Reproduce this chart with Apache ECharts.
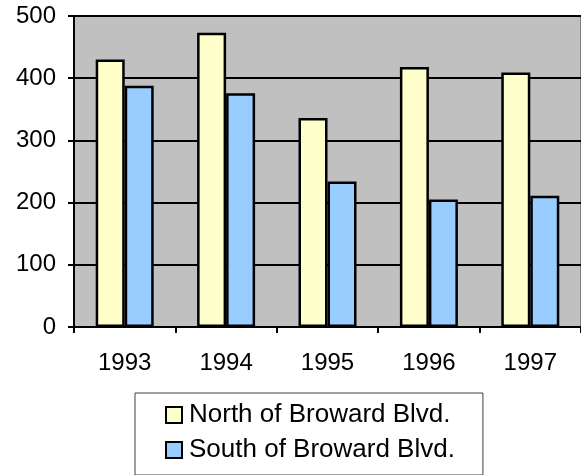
<!DOCTYPE html>
<html>
<head>
<meta charset="utf-8">
<script src="https://cdn.jsdelivr.net/npm/echarts@6/dist/echarts.min.js"></script>
<style>
  html, body { margin: 0; padding: 0; background: #ffffff; }
  #chart { width: 581px; height: 475px; }
</style>
</head>
<body>
<div id="chart"></div>
<script>
// Yearly counts, north vs. south of Broward Blvd.
var years = ['1993', '1994', '1995', '1996', '1997'];
var northValues = [430, 473, 336, 418, 409];
var southValues = [388, 376, 234, 205, 211];
var seriesNames = ['North of Broward Blvd.', 'South of Broward Blvd.'];
var yTicks = { min: 0, max: 500, step: 100 };

var FONT = '"Liberation Sans", Arial, sans-serif';

var chart = echarts.init(document.getElementById('chart'), null, { renderer: 'canvas' });

chart.setOption({
  animation: false,
  backgroundColor: '#ffffff',
  textStyle: { fontFamily: FONT },
  grid: {
    left: 74,
    top: 16,
    right: -3,
    bottom: 148,
    show: true,
    backgroundColor: '#c0c0c0',
    borderColor: '#808080',
    borderWidth: 2
  },
  legend: {
    orient: 'vertical',
    left: 135,
    top: 393,
    padding: [9, 28, 12, 30],
    itemGap: 9,
    itemWidth: 16,
    itemHeight: 16,
    icon: 'rect',
    borderColor: '#404040',
    borderWidth: 1,
    backgroundColor: '#ffffff',
    textStyle: { fontFamily: FONT, fontSize: 26, color: '#000000', padding: [0, 0, 0, 2] },
    data: seriesNames
  },
  xAxis: {
    type: 'category',
    data: years,
    axisLine: { show: true, lineStyle: { color: '#000000', width: 2 } },
    axisTick: { show: true, length: 6, lineStyle: { color: '#000000', width: 2 } },
    axisLabel: { fontFamily: FONT, fontSize: 24, color: '#000000', margin: 24 },
    splitLine: { show: false }
  },
  yAxis: {
    type: 'value',
    min: yTicks.min,
    max: yTicks.max,
    interval: yTicks.step,
    axisLine: { show: true, lineStyle: { color: '#000000', width: 2 } },
    axisTick: { show: true, length: 6, lineStyle: { color: '#000000', width: 2 } },
    axisLabel: { fontFamily: FONT, fontSize: 24, color: '#000000', margin: 18 },
    splitLine: { show: true, lineStyle: { color: '#000000', width: 2 } }
  },
  series: [
    {
      name: seriesNames[0],
      type: 'bar',
      data: northValues,
      barWidth: 29,
      barGap: '0%',
      itemStyle: { color: '#ffffcc', borderColor: '#000000', borderWidth: 2.5 }
    },
    {
      name: seriesNames[1],
      type: 'bar',
      data: southValues,
      barWidth: 29,
      barGap: '0%',
      itemStyle: { color: '#99ccff', borderColor: '#000000', borderWidth: 2.5 }
    }
  ]
});
</script>
</body>
</html>
